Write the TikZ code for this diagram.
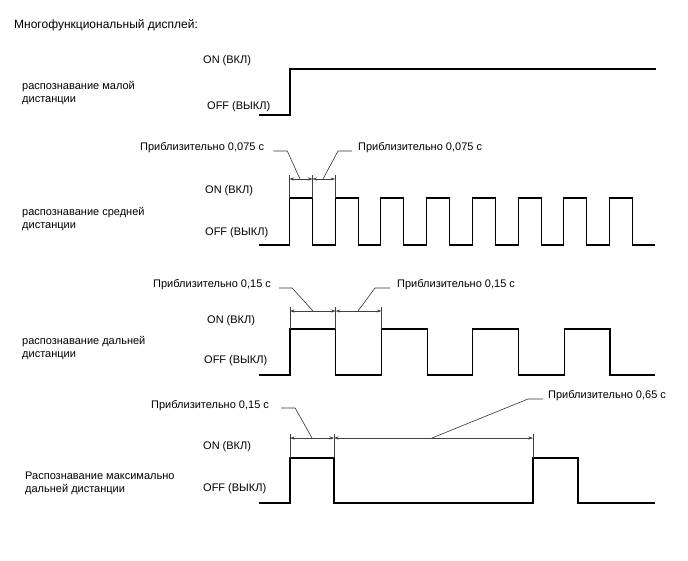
\documentclass[tikz,border=0pt]{standalone}
\usepackage{fontspec}
\setmainfont{Liberation Sans}
\usepackage{tikz}
\usetikzlibrary{arrows.meta, calc}

\tikzset{
    lbl/.style={inner sep=0pt, anchor=west, font=\fontsize{11}{13}\selectfont},
    rowlbl/.style={inner sep=0pt, anchor=west, align=left, font=\fontsize{11}{13}\selectfont},
    wave/.style={line width=1.1pt, line join=miter},
    extline/.style={line width=0.45pt, black!75},
    dimline/.style={line width=0.45pt, black!75, {Stealth[length=4.5pt,width=3pt]}-{Stealth[length=4.5pt,width=3pt]}},
    leader/.style={line width=0.6pt, black!80}
}

\begin{document}
\begin{tikzpicture}[x=1pt, y=-1pt]
    \useasboundingbox (0,0) rectangle (688,560);

    % Title
    \node[lbl, font=\fontsize{12}{14}\selectfont] (title) at (14,25) {Многофункциональный дисплей:};

    % Short range
    \node[rowlbl] (r1) at (22,93) {распознавание малой\\дистанции};
    \node[lbl] (on1) at (203,61) {ON (ВКЛ)};
    \node[lbl] (off1) at (207,107) {OFF (ВЫКЛ)};
    \draw[wave] (259,115) -- (290,115) -- (290,69) -- (656,69);

    % Middle range
    \node[rowlbl] (r2) at (22,219) {распознавание средней\\дистанции};
    \node[lbl] (on2) at (205,191) {ON (ВКЛ)};
    \node[lbl] (off2) at (205,233) {OFF (ВЫКЛ)};
    \draw[wave] (259,245)
        \foreach \i in {0,...,7} {
            -- ({289.5+45.71*\i},245) -- ++(0,-47) -- ++(23,0) -- ++(0,47)
        } -- (655,245);
    \foreach \x in {289.5, 312.5, 335.2} {
        \draw[extline] (\x,175) -- (\x,198);
    }
    \draw[dimline] (289.5,179) -- (312.5,179);
    \draw[dimline] (312.5,179) -- (335.2,179);
    \coordinate (d2a) at (300,179);
    \coordinate (d2b) at (323,179);
    \node[lbl] (t2a) at (140,148) {Приблизительно 0,075 с};
    \node[lbl] (t2b) at (358,148) {Приблизительно 0,075 с};
    \draw[leader] (t2a.east) ++(9,3) -- ++(14,0) -- (d2a);
    \draw[leader] (d2b) -- (338,151) -- ($(t2b.west)+(-6,3)$);

    % Long range
    \node[rowlbl] (r3) at (22,348) {распознавание дальней\\дистанции};
    \node[lbl] (on3) at (207,321) {ON (ВКЛ)};
    \node[lbl] (off3) at (204,361) {OFF (ВЫКЛ)};
    \draw[wave] (259,375)
        \foreach \i in {0,...,3} {
            -- ({290+91.43*\i},375) -- ++(0,-46) -- ++(45.7,0) -- ++(0,46)
        } -- (655,375);
    \foreach \x in {290, 335.7, 381.4} {
        \draw[extline] (\x,307) -- (\x,329);
    }
    \draw[dimline] (290,311) -- (335.7,311);
    \draw[dimline] (335.7,311) -- (381.4,311);
    \coordinate (d3a) at (313,311);
    \coordinate (d3b) at (358,311);
    \node[lbl] (t3a) at (153,285) {Приблизительно 0,15 с};
    \node[lbl] (t3b) at (397,285) {Приблизительно 0,15 с};
    \draw[leader] (t3a.east) ++(8,3) -- ++(13,0) -- (d3a);
    \draw[leader] (d3b) -- (375,288) -- ($(t3b.west)+(-7,3)$);

    % Maximum range
    \node[rowlbl] (r4) at (25,483) {Распознавание максимально\\дальней дистанции};
    \node[lbl] (on4) at (203,447) {ON (ВКЛ)};
    \node[lbl] (off4) at (203,489) {OFF (ВЫКЛ)};
    \draw[wave] (259,503) -- (290,503) -- (290,458) -- (334,458) -- (334,503)
        -- (533,503) -- (533,458) -- (578,458) -- (578,503) -- (655,503);
    \foreach \x in {290, 334, 533} {
        \draw[extline] (\x,434) -- (\x,458);
    }
    \draw[dimline] (290,438) -- (334,438);
    \draw[dimline] (334,438) -- (533,438);
    \coordinate (d4a) at (312,438);
    \coordinate (d4b) at (432,438);
    \node[lbl] (t4a) at (151,406) {Приблизительно 0,15 с};
    \node[lbl] (t4b) at (548,396) {Приблизительно 0,65 с};
    \draw[leader] (t4a.east) ++(12,2) -- ++(14,0) -- (d4a);
    \draw[leader] (d4b) -- (528,399) -- ($(t4b.west)+(-5,3)$);
\end{tikzpicture}
\end{document}
